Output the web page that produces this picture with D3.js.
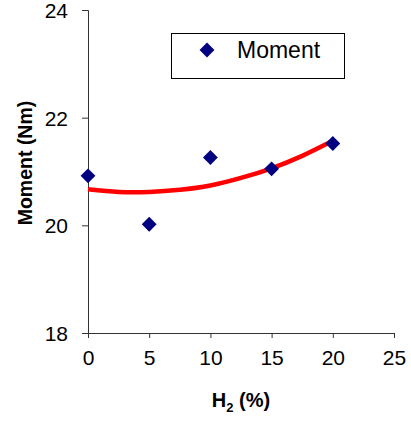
<!DOCTYPE html>
<html>
<head>
<meta charset="utf-8">
<script src="https://cdn.jsdelivr.net/npm/d3@7"></script>
<style>
  html, body { margin: 0; padding: 0; background: #fff; }
  svg { display: block; font-family: "Liberation Sans", Arial, sans-serif; }
</style>
</head>
<body>
<svg id="chart" width="411" height="421"></svg>
<script>
// Measured torque at each hydrogen share
const h2Percent = [0, 5, 10, 15, 20];
const momentNm = [20.92, 20.02, 21.26, 21.05, 21.52];

// Second-order trendline, sampled along the H2 range
const trendX = [0, 2.5, 5, 7.5, 10, 12.5, 15, 17.5, 20];
const trendY = [20.67, 20.62, 20.62, 20.66, 20.74, 20.88, 21.06, 21.29, 21.57];

const xTicks = [0, 5, 10, 15, 20, 25];
const yTicks = [18, 20, 22, 24];

const svg = d3.select("#chart");
const plot = { left: 88, right: 394, top: 10, bottom: 333 };

const x = d3.scaleLinear().domain([0, 25]).range([plot.left, plot.right]);
const y = d3.scaleLinear().domain([18, 24]).range([plot.bottom, plot.top]);

// Axes
const xAxis = svg.append("g")
  .attr("transform", `translate(0,${plot.bottom})`)
  .call(d3.axisBottom(x).tickValues(xTicks).tickFormat(d3.format("d")).tickSize(5).tickPadding(12));
const yAxis = svg.append("g")
  .attr("transform", `translate(${plot.left},0)`)
  .call(d3.axisLeft(y).tickValues(yTicks).tickFormat(d3.format("d")).tickSize(6).tickPadding(14));

[xAxis, yAxis].forEach(g => {
  g.select(".domain").attr("stroke", "#333").attr("stroke-width", 1);
  g.selectAll(".tick line").attr("stroke", "#333").attr("stroke-width", 1);
  g.selectAll(".tick text")
    .attr("fill", "#000")
    .style("font-size", "21px")
    .style("font-family", "'Liberation Sans', Arial, sans-serif");
});
yAxis.selectAll(".tick text").attr("dy", "0.36em");

// Trendline
const line = d3.line()
  .x((d, i) => x(trendX[i]))
  .y(d => y(d))
  .curve(d3.curveNatural);
svg.append("path")
  .datum(trendY)
  .attr("d", line)
  .attr("fill", "none")
  .attr("stroke", "#ff0000")
  .attr("stroke-width", 4.5)
  .attr("stroke-linecap", "butt");

// Data markers
const diamond = d3.symbol().type(d3.symbolSquare).size(110);
svg.append("g").selectAll("path")
  .data(h2Percent)
  .join("path")
  .attr("d", diamond)
  .attr("transform", (d, i) => `translate(${x(d)},${y(momentNm[i])}) rotate(45)`)
  .attr("fill", "#000080");

// Axis titles
const xTitle = svg.append("text")
  .attr("x", (plot.left + plot.right) / 2)
  .attr("y", 407)
  .attr("text-anchor", "middle")
  .style("font-size", "20px")
  .style("font-weight", "bold");
xTitle.append("tspan").text("H");
xTitle.append("tspan").text("2").attr("dy", 5).style("font-size", "13px");
xTitle.append("tspan").text(" (%)").attr("dy", -5);

svg.append("text")
  .attr("transform", "translate(32,163) rotate(-90)")
  .attr("text-anchor", "middle")
  .style("font-size", "19.5px")
  .style("font-weight", "bold")
  .text("Moment (Nm)");

// Legend
const legend = svg.append("g");
legend.append("rect")
  .attr("x", 171.5).attr("y", 33.5)
  .attr("width", 173).attr("height", 45)
  .attr("fill", "#fff").attr("stroke", "#000").attr("stroke-width", 1);
legend.append("path")
  .attr("d", diamond)
  .attr("transform", "translate(207,50) rotate(45)")
  .attr("fill", "#000080");
legend.append("text")
  .attr("x", 237).attr("y", 57.5)
  .style("font-size", "23px")
  .text("Moment");
</script>
</body>
</html>
